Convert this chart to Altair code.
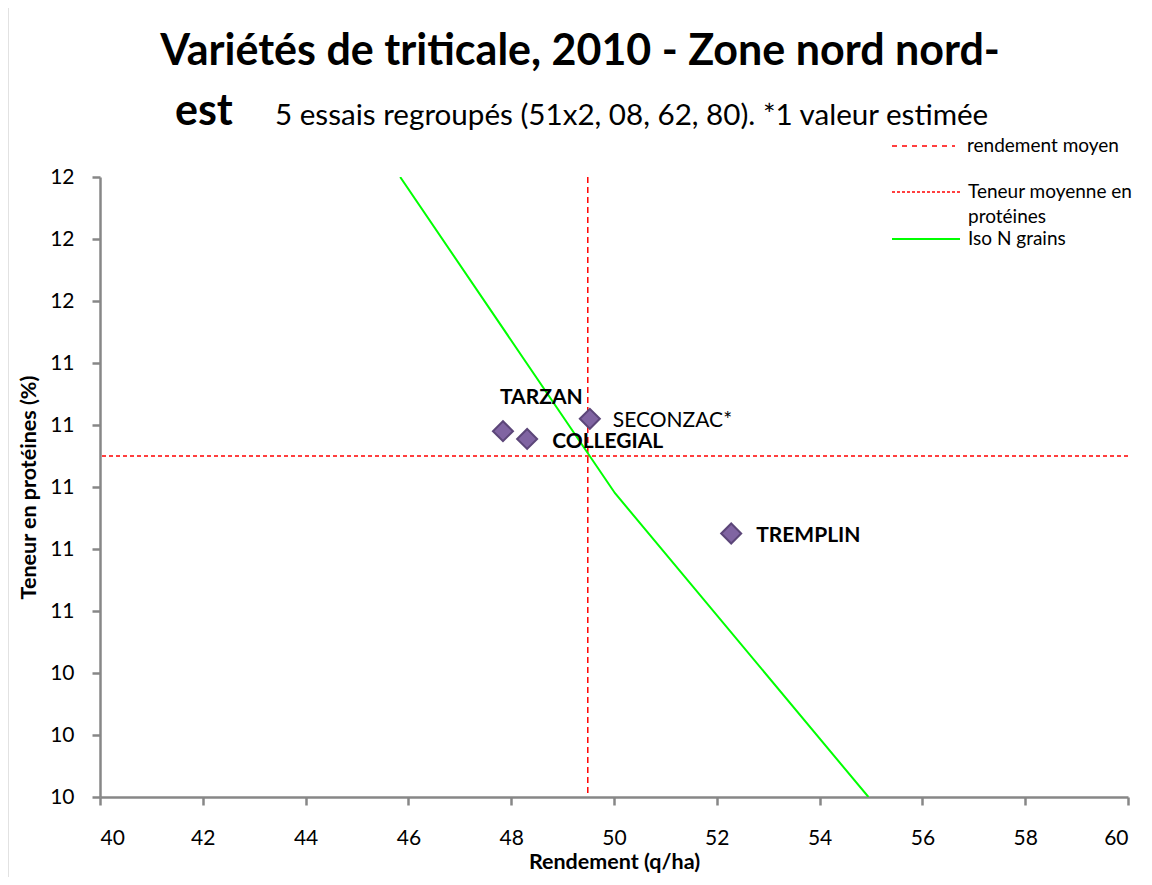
import altair as alt
import pandas as pd

# ---- data ----
varietes = ["TARZAN", "SECONZAC*", "COLLEGIAL", "TREMPLIN"]
rendement = [47.84, 49.53, 48.31, 52.28]
proteines = [11.18, 11.22, 11.155, 10.85]

rendement_moyen = [49.49]
teneur_moyenne = [11.10]

iso_rendement = [45.84, 50.02, 54.95]
iso_proteines = [12.0, 10.98, 10.0]

x_ticks = [40, 42, 44, 46, 48, 50, 52, 54, 56, 58, 60]
y_ticks = [10.0, 10.2, 10.4, 10.6, 10.8, 11.0, 11.2, 11.4, 11.6, 11.8, 12.0]

titre_1 = "Variétés de triticale, 2010 - Zone nord nord-"
titre_2 = "est"
sous_titre = "5 essais regroupés (51x2, 08, 62, 80). *1 valeur estimée"
legende = ["rendement moyen", "Teneur moyenne en", "protéines", "Iso N grains"]

FONT = "Lato"
W, H = 1028, 620

pts = pd.DataFrame({"var": varietes, "x": rendement, "y": proteines})
iso = pd.DataFrame({"x": iso_rendement, "y": iso_proteines})

xs = alt.Scale(domain=[40, 60], nice=False, zero=False)
ys = alt.Scale(domain=[10, 12], nice=False, zero=False)

base = alt.Chart(pts)

xenc = alt.X("x:Q", scale=xs, axis=alt.Axis(values=x_ticks, format="d", title="Rendement (q/ha)",
                                           labelPadding=22, titlePadding=3, titleFontSize=21.5))
yenc = alt.Y("y:Q", scale=ys, axis=alt.Axis(values=y_ticks, format=".0f", title="Teneur en protéines (%)",
                                           labelPadding=18, titlePadding=9, titleFontSize=21.5))

vline = alt.Chart(pd.DataFrame({"x": rendement_moyen})).mark_rule(
    color="#FF0000", strokeDash=[6, 4], strokeWidth=1.5).encode(x=alt.X("x:Q", scale=xs))
hline = alt.Chart(pd.DataFrame({"y": teneur_moyenne})).mark_rule(
    color="#FF0000", strokeDash=[4, 3], strokeWidth=1.5).encode(y=alt.Y("y:Q", scale=ys))
iso_line = alt.Chart(iso).mark_line(color="#00FF00", strokeWidth=2, clip=True).encode(
    x=alt.X("x:Q", scale=xs), y=alt.Y("y:Q", scale=ys))

points = base.mark_point(shape="diamond", filled=True, size=400, fill="#8064A2",
                         stroke="#5C4679", strokeWidth=2, opacity=1).encode(x=xenc, y=yenc)

label_style = {
    "TARZAN": (-3, -33, "bold"),
    "SECONZAC*": (23, 2, "normal"),
    "COLLEGIAL": (25, 3, "bold"),
    "TREMPLIN": (25, 2, "bold"),
}
labels = []
for v in varietes:
    dx, dy, fw = label_style[v]
    labels.append(
        base.transform_filter(alt.datum.var == v).mark_text(
            align="left", baseline="middle", dx=dx, dy=dy, font=FONT, fontSize=21,
            fontWeight=fw, color="black").encode(
            x=alt.X("x:Q", scale=xs), y=alt.Y("y:Q", scale=ys), text="var:N"))

# ---- decorative texts, legend and frame ----
def txt(s, x, y, size, weight="normal", align="left", baseline="middle"):
    return alt.Chart(pd.DataFrame({"t": [s]})).mark_text(
        align=align, baseline=baseline, font=FONT, fontSize=size, fontWeight=weight,
        color="black").encode(x=alt.value(x), y=alt.value(y), text="t:N")

def seg(x1, x2, y, color, dash=None, width=1.5):
    kw = dict(color=color, strokeWidth=width)
    if dash:
        kw["strokeDash"] = dash
    return alt.Chart(pd.DataFrame({"a": [0]})).mark_rule(**kw).encode(
        x=alt.value(x1), x2=alt.value(x2), y=alt.value(y))

title_layers = [
    txt(titre_1, 480, -112, 43, "bold", "center", "alphabetic"),
    txt(titre_2, 75, -52, 43, "bold", "left", "alphabetic"),
    txt(sous_titre, 175, -52, 29.6, "normal", "left", "alphabetic"),
]
legend_layers = [
    seg(792, 855, -31, "#FF0000", [5, 5]),
    txt(legende[0], 867, -31, 19),
    seg(792, 860, 15, "#FF0000", [3, 2]),
    txt(legende[1], 868, 15, 19),
    txt(legende[2], 868, 40, 19),
    seg(792, 860, 62, "#00FF00", None, 2),
    txt(legende[3], 868, 62, 19),
]
frame = [
    alt.Chart(pd.DataFrame({"a": [0]})).mark_rule(color="#8C8C8C", strokeWidth=2.5).encode(
        x=alt.value(-93), y=alt.value(-173), y2=alt.value(720)),
    alt.Chart(pd.DataFrame({"a": [0]})).mark_rule(color="#8C8C8C", strokeWidth=2.5).encode(
        x=alt.value(-93), x2=alt.value(1060), y=alt.value(-173)),
]

chart = alt.layer(
    *frame, vline, hline, iso_line, points, *labels, *title_layers, *legend_layers
).properties(
    width=W, height=H,
    autosize=alt.AutoSizeParams(type="none"),
    padding={"left": 92, "top": 169, "right": 16, "bottom": 80},
).configure_view(stroke=None).configure_axis(
    domainColor="#878787", domainWidth=2.5, tickColor="#878787", tickWidth=2.5, tickSize=8,
    grid=False, labelFont=FONT, labelFontSize=21, labelColor="black",
    titleFont=FONT, titleFontSize=20, titleFontWeight="bold", titleColor="black",
)

chart.save("out.html", embed_options={"renderer": "svg", "actions": False})
